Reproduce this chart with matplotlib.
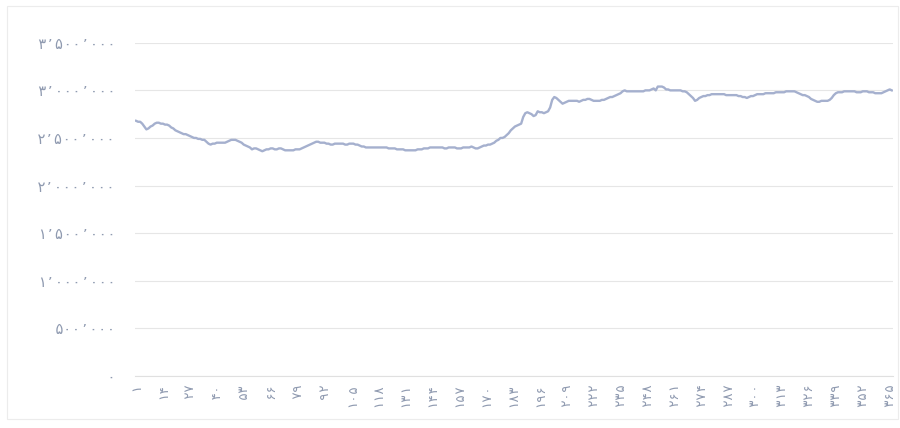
import matplotlib
matplotlib.use("Agg")
import matplotlib.pyplot as plt
from matplotlib.patches import Rectangle

# Daily values (millions), days 1..366
values_m = [
    2.68,2.67,2.67,2.65,2.62,2.59,2.60,2.62,2.63,2.65,
    2.66,2.66,2.65,2.65,2.64,2.64,2.63,2.61,2.60,2.58,
    2.57,2.56,2.55,2.54,2.54,2.53,2.52,2.51,2.50,2.50,
    2.49,2.49,2.48,2.48,2.46,2.44,2.43,2.44,2.44,2.45,
    2.45,2.45,2.45,2.45,2.46,2.47,2.48,2.48,2.48,2.47,
    2.46,2.45,2.43,2.42,2.41,2.40,2.38,2.39,2.39,2.38,
    2.37,2.36,2.37,2.38,2.38,2.39,2.39,2.38,2.38,2.39,
    2.39,2.38,2.37,2.37,2.37,2.37,2.37,2.38,2.38,2.38,
    2.39,2.40,2.41,2.42,2.43,2.44,2.45,2.46,2.46,2.45,
    2.45,2.45,2.44,2.44,2.43,2.43,2.44,2.44,2.44,2.44,
    2.44,2.43,2.43,2.44,2.44,2.44,2.43,2.43,2.42,2.41,
    2.41,2.40,2.40,2.40,2.40,2.40,2.40,2.40,2.40,2.40,
    2.40,2.40,2.39,2.39,2.39,2.39,2.38,2.38,2.38,2.38,
    2.37,2.37,2.37,2.37,2.37,2.37,2.38,2.38,2.38,2.39,
    2.39,2.39,2.40,2.40,2.40,2.40,2.40,2.40,2.40,2.39,
    2.39,2.40,2.40,2.40,2.40,2.39,2.39,2.39,2.40,2.40,
    2.40,2.40,2.41,2.40,2.39,2.39,2.40,2.41,2.42,2.42,
    2.43,2.43,2.44,2.45,2.47,2.48,2.50,2.50,2.51,2.53,
    2.55,2.58,2.60,2.62,2.63,2.64,2.65,2.72,2.76,2.77,
    2.76,2.75,2.73,2.74,2.78,2.77,2.77,2.76,2.77,2.78,
    2.82,2.90,2.93,2.92,2.90,2.88,2.86,2.87,2.88,2.89,
    2.89,2.89,2.89,2.89,2.88,2.89,2.90,2.90,2.91,2.91,
    2.90,2.89,2.89,2.89,2.89,2.90,2.90,2.91,2.92,2.93,
    2.93,2.94,2.95,2.96,2.97,2.99,3.00,2.99,2.99,2.99,
    2.99,2.99,2.99,2.99,2.99,2.99,3.00,3.00,3.00,3.01,
    3.02,3.00,3.04,3.04,3.04,3.03,3.01,3.01,3.00,3.00,
    3.00,3.00,3.00,3.00,2.99,2.99,2.98,2.96,2.94,2.92,
    2.89,2.90,2.92,2.93,2.94,2.94,2.95,2.95,2.96,2.96,
    2.96,2.96,2.96,2.96,2.96,2.95,2.95,2.95,2.95,2.95,
    2.95,2.94,2.94,2.93,2.93,2.92,2.93,2.94,2.94,2.95,
    2.96,2.96,2.96,2.96,2.97,2.97,2.97,2.97,2.97,2.98,
    2.98,2.98,2.98,2.98,2.99,2.99,2.99,2.99,2.99,2.98,
    2.97,2.96,2.95,2.95,2.94,2.93,2.91,2.90,2.89,2.88,
    2.88,2.89,2.89,2.89,2.89,2.90,2.92,2.95,2.97,2.98,
    2.98,2.98,2.99,2.99,2.99,2.99,2.99,2.99,2.98,2.98,
    2.98,2.99,2.99,2.99,2.98,2.98,2.98,2.97,2.97,2.97,
    2.97,2.98,2.99,3.00,3.01,3.00,
]
values = [v * 1_000_000 for v in values_m]
days = list(range(1, len(values) + 1))

x_tick_days = [1, 14, 27, 40, 53, 66, 79, 92, 105, 118, 131, 144, 157, 170, 183,
               196, 209, 222, 235, 248, 261, 274, 287, 300, 313, 326, 339, 352, 365]
x_tick_labels = ["۱", "۱۴", "۲۷", "۴۰", "۵۳", "۶۶", "۷۹", "۹۲", "۱۰۵", "۱۱۸", "۱۳۱",
                 "۱۴۴", "۱۵۷", "۱۷۰", "۱۸۳", "۱۹۶", "۲۰۹", "۲۲۲", "۲۳۵", "۲۴۸",
                 "۲۶۱", "۲۷۴", "۲۸۷", "۳۰۰", "۳۱۳", "۳۲۶", "۳۳۹", "۳۵۲", "۳۶۵"]
y_ticks = [0, 500000, 1000000, 1500000, 2000000, 2500000, 3000000, 3500000]
y_tick_labels = ["۰", "۵۰۰٬۰۰۰", "۱٬۰۰۰٬۰۰۰", "۱٬۵۰۰٬۰۰۰", "۲٬۰۰۰٬۰۰۰",
                 "۲٬۵۰۰٬۰۰۰", "۳٬۰۰۰٬۰۰۰", "۳٬۵۰۰٬۰۰۰"]

plt.rcParams['font.family'] = ['DejaVu Sans Mono', 'DejaVu Sans']
fig = plt.figure(figsize=(9.0, 4.28), dpi=100)
fig.patch.set_facecolor('white')
fig.patches.append(Rectangle((0.008, 0.02), 0.99, 0.965, transform=fig.transFigure,
                             fill=False, edgecolor='#ececec', linewidth=0.8))

ax = fig.add_axes([0.15, 0.122, 0.842, 0.778])
ax.plot(days, values, color='#a5b0ce', linewidth=1.7, solid_joinstyle='round')

ax.set_xlim(0.5, len(values) + 0.5)
ax.set_ylim(0, 3500000)
ax.set_yticks(y_ticks)
ax.set_yticklabels(y_tick_labels)
ax.set_xticks(x_tick_days)
ax.set_xticklabels(x_tick_labels, rotation=90)

ax.grid(axis='y', color='#e6e6e6', linewidth=0.8)
ax.set_axisbelow(True)
for s in ['top', 'right', 'left']:
    ax.spines[s].set_visible(False)
ax.spines['bottom'].set_color('#e0e0e0')
ax.spines['bottom'].set_linewidth(0.8)
ax.tick_params(axis='y', length=0, pad=14, labelsize=10.5, labelcolor='#8f9ab0')
ax.tick_params(axis='x', length=0, pad=5, labelsize=9.5, labelcolor='#8f9ab0')

fig.savefig('out.png', dpi=100, facecolor='white')
